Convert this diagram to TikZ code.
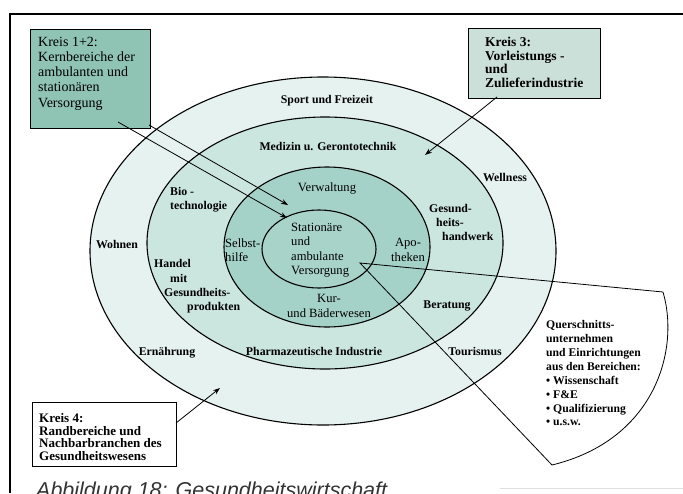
\documentclass[tikz,border=0pt]{standalone}
\usepackage{fontspec}
\setmainfont{Liberation Serif}
\setsansfont{Liberation Sans}
\usetikzlibrary{arrows.meta}

% fills of the four rings and of the label boxes
\definecolor{ringfour}{RGB}{230,242,240}
\definecolor{ringthree}{RGB}{203,229,223}
\definecolor{ringtwo}{RGB}{165,210,200}
\definecolor{ringone}{RGB}{168,211,201}
\definecolor{boxteal}{RGB}{143,195,180}
\definecolor{boxgrey}{RGB}{204,224,218}

\begin{document}
\begin{tikzpicture}[x=1pt,y=-1pt,
  ring/.style={draw=black, line width=1.1pt},
  lbl/.style={font=\fontsize{11.8}{14.3}\selectfont\bfseries, inner sep=0pt, align=left},
  ilbl/.style={font=\fontsize{12.6}{14.4}\selectfont, inner sep=0pt, align=left},
  kbox/.style={draw=black, line width=1pt, inner sep=0pt, anchor=north west},
  ktext/.style={inner sep=0pt, align=left, anchor=west},
  pointer/.style={line width=0.8pt, -{Stealth[length=7pt,width=5pt]}},
  sectorline/.style={line width=0.8pt}]

\useasboundingbox (0,0) rectangle (683,493);

% frame
\draw[line width=2.6pt] (683,14) -- (10,14) -- (10,493);
\draw[gray!25, line width=0.8pt] (500,488) -- (683,488);

% concentric circles of the health economy
\draw[ring, fill=ringfour]  (323,251) ellipse [x radius=233pt, y radius=174pt];
\draw[ring, fill=ringthree] (325,243) ellipse [x radius=178pt, y radius=126pt];
\draw[ring, fill=ringtwo]   (327,247) ellipse [x radius=103pt, y radius=80pt];
\draw[ring, fill=ringone]   (319,249) ellipse [x radius=57pt,  y radius=39pt];

% cross-sectional sector
\coordinate (sapex) at (360,263);
\coordinate (sp1) at (663,292);
\coordinate (sp2) at (552,465);
\draw[sectorline] (sp1) -- (sapex) -- (sp2) .. controls (655,440) and (680,350) .. (sp1);

% legend boxes
\node[kbox, fill=boxteal, minimum width=120pt, minimum height=99pt] (k12) at (30,29) {};
\node[ktext, font=\fontsize{14}{15.2}\selectfont] (k12t) at (38,73.5)
  {Kreis 1+2:\\Kernbereiche der\\ambulanten und\\stationären\\Versorgung};

\node[kbox, fill=boxgrey, minimum width=132pt, minimum height=70pt] (k3) at (468,28) {};
\node[ktext, font=\fontsize{13.5}{13.6}\selectfont\bfseries] (k3t) at (485,62.5)
  {Kreis 3:\\Vorleistungs -\\und\\Zulieferindustrie};

\node[kbox, fill=white, minimum width=144pt, minimum height=64pt] (k4) at (32,402) {};
\node[ktext, font=\fontsize{13}{12.7}\selectfont\bfseries] (k4t) at (39,437)
  {Kreis 4:\\Randbereiche und\\Nachbarbranchen des\\Gesundheitswesens};

% pointers from the boxes into the circles
\coordinate (a1s) at (149,125); \coordinate (a1e) at (288,205);
\coordinate (a2s) at (118,122); \coordinate (a2e) at (287,218);
\coordinate (a3s) at (497,97);  \coordinate (a3e) at (425,155);
\coordinate (a4s) at (176,423); \coordinate (a4e) at (220,388);
\draw[pointer] (a1s) -- (a1e);
\draw[pointer] (a2s) -- (a2e);
\draw[pointer] (a3s) -- (a3e);
\draw[pointer] (a4s) -- (a4e);

% ring labels
\node[lbl] (sport) at (327,101) {Sport und Freizeit};
\node[lbl] (medizin) at (328,146) {Medizin u. Gerontotechnik};
\node[lbl] (wellness) at (505,177) {Wellness};
\node[ilbl] (verw) at (327,188) {Verwaltung};
\node[lbl, anchor=west] (bio) at (170,200) {Bio -\\technologie};
\node[lbl, anchor=west] (gesund) at (429,222.5)
  {Gesund-\\\hspace*{7pt}heits-\\\hspace*{13pt}handwerk};
\node[lbl] (wohnen) at (117,244) {Wohnen};
\node[ilbl, anchor=west] (selbst) at (225,250) {Selbst-\\hilfe};
\node[ilbl, anchor=west] (station) at (291,250) {Stationäre\\und\\ambulante\\Versorgung};
\node[ilbl, align=center] (apo) at (408,250) {Apo-\\theken};
\node[lbl, anchor=west] (handel) at (154,286.5)
  {Handel\\\hspace*{16pt}mit\\\hspace*{10pt}Gesundheits-\\\hspace*{33pt}produkten};
\node[ilbl, align=center] (kur) at (329,306) {Kur-\\und Bäderwesen};
\node[lbl] (beratung) at (447,306) {Beratung};
\node[lbl] (ernaehrung) at (167,353) {Ernährung};
\node[lbl] (pharma) at (314,351) {Pharmazeutische Industrie};
\node[lbl] (tourismus) at (475,351) {Tourismus};
\node[lbl, anchor=west, font=\fontsize{11.7}{13.86}\selectfont\bfseries] (quer) at (546,373.5)
  {Querschnitts-\\unternehmen\\und Einrichtungen\\aus den Bereichen:\\• Wissenschaft\\• F\&E\\• Qualifizierung\\• u.s.w.};

% caption
\node[anchor=base west, inner sep=0pt, text=black!80,
      font=\sffamily\itshape\fontsize{21.5}{24}\selectfont] (cap) at (36,497.5)
  {Abbildung 18: Gesundheitswirtschaft};
\end{tikzpicture}
\end{document}
